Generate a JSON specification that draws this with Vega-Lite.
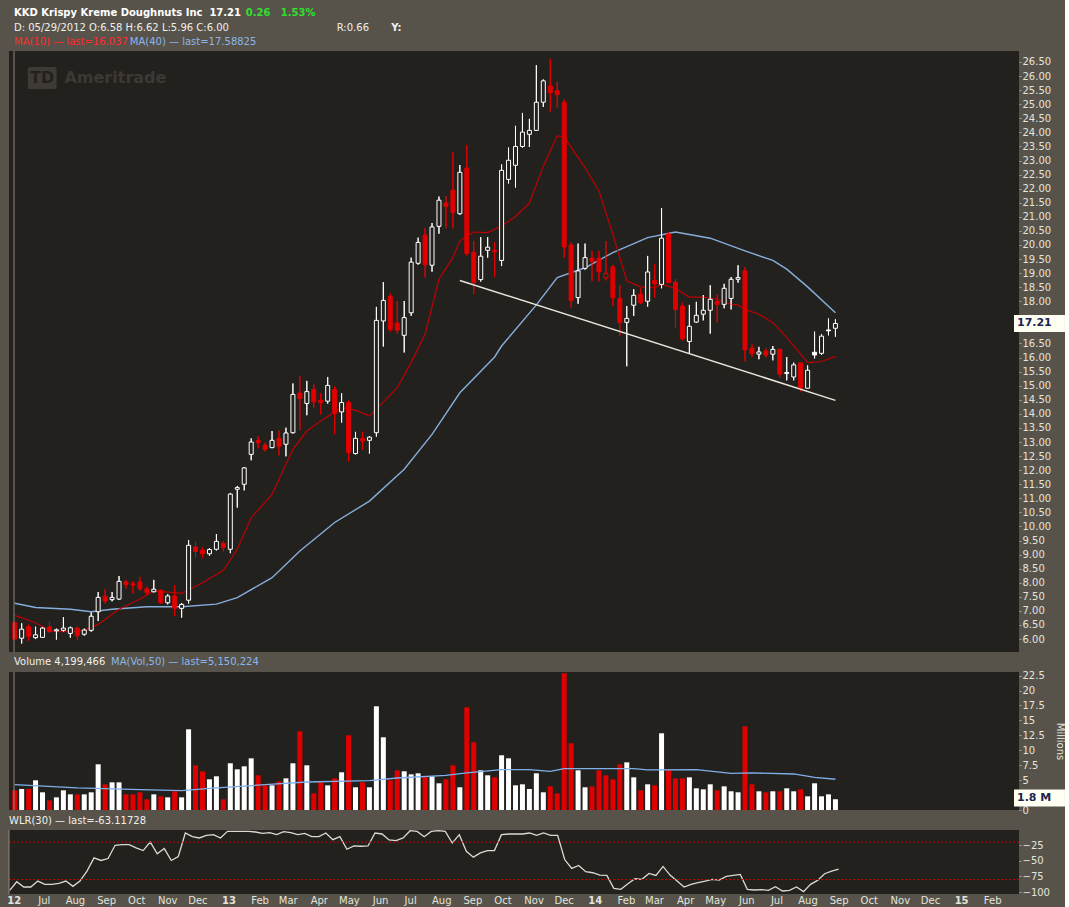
{
  "$schema": "https://vega.github.io/schema/vega-lite/v6.json",
  "background": "#57534B",
  "padding": {"left": 6, "top": 7, "right": 0, "bottom": 4},
  "config": {
    "view": {"fill": "#23211E", "stroke": null},
    "font": "DejaVu Sans",
    "axis": {
      "labelFont": "DejaVu Sans", "labelFontSize": 10, "labelColor": "#E4E4DC",
      "domain": false, "ticks": true, "tickSize": 2, "tickColor": "#A8A49C", "grid": false,
      "labelPadding": 1, "labelOverlap": false,
      "titleFont": "DejaVu Sans", "titleFontSize": 10, "titleColor": "#E4E4DC", "titleFontWeight": "normal"
    },
    "text": {"font": "DejaVu Sans", "fontSize": 10, "align": "left", "baseline": "middle"}
  },
  "datasets": {
    "candles": [
      {"d":"2012-05-28","o":6.58,"h":6.62,"l":5.96,"c":6.00,"v":3.3,"dir":"down","wlr":-97.3},
      {"d":"2012-06-04","o":6.03,"h":6.56,"l":5.84,"c":6.35,"v":3.52,"dir":"up","wlr":-83.5},
      {"d":"2012-06-11","o":6.44,"h":6.52,"l":5.93,"c":6.10,"v":3.52,"dir":"down","wlr":-92.0},
      {"d":"2012-06-18","o":6.05,"h":6.44,"l":6.00,"c":6.15,"v":4.97,"dir":"up","wlr":-92.0},
      {"d":"2012-06-25","o":6.06,"h":6.43,"l":6.05,"c":6.39,"v":2.96,"dir":"up","wlr":-82.4},
      {"d":"2012-07-02","o":6.43,"h":6.61,"l":6.22,"c":6.26,"v":1.62,"dir":"down","wlr":-87.7},
      {"d":"2012-07-09","o":6.29,"h":6.37,"l":5.98,"c":6.33,"v":2.12,"dir":"up","wlr":-87.7},
      {"d":"2012-07-16","o":6.31,"h":6.78,"l":6.26,"c":6.39,"v":3.29,"dir":"up","wlr":-86.1},
      {"d":"2012-07-23","o":6.20,"h":6.44,"l":6.05,"c":6.40,"v":2.62,"dir":"up","wlr":-82.4},
      {"d":"2012-07-30","o":6.39,"h":6.44,"l":5.96,"c":6.12,"v":2.62,"dir":"down","wlr":-90.9},
      {"d":"2012-08-06","o":6.17,"h":6.37,"l":6.12,"c":6.32,"v":2.62,"dir":"up","wlr":-82.4},
      {"d":"2012-08-13","o":6.31,"h":6.95,"l":6.26,"c":6.81,"v":2.96,"dir":"up","wlr":-66.5},
      {"d":"2012-08-20","o":6.97,"h":7.67,"l":6.64,"c":7.48,"v":7.65,"dir":"up","wlr":-45.2},
      {"d":"2012-08-27","o":7.52,"h":7.77,"l":7.26,"c":7.35,"v":4.30,"dir":"down","wlr":-49.4},
      {"d":"2012-09-03","o":7.40,"h":7.67,"l":7.34,"c":7.48,"v":4.63,"dir":"up","wlr":-46.3},
      {"d":"2012-09-10","o":7.42,"h":8.24,"l":7.39,"c":8.05,"v":4.63,"dir":"up","wlr":-25.0},
      {"d":"2012-09-17","o":8.03,"h":8.10,"l":7.79,"c":7.94,"v":2.62,"dir":"down","wlr":-23.9},
      {"d":"2012-09-24","o":7.97,"h":8.06,"l":7.62,"c":7.92,"v":2.62,"dir":"down","wlr":-23.9},
      {"d":"2012-10-01","o":8.03,"h":8.21,"l":7.71,"c":7.79,"v":2.96,"dir":"down","wlr":-29.2},
      {"d":"2012-10-08","o":7.78,"h":7.86,"l":7.55,"c":7.66,"v":1.79,"dir":"down","wlr":-33.5},
      {"d":"2012-10-15","o":7.68,"h":8.10,"l":7.66,"c":7.77,"v":2.62,"dir":"up","wlr":-19.7},
      {"d":"2012-10-22","o":7.73,"h":7.76,"l":7.26,"c":7.29,"v":2.29,"dir":"down","wlr":-38.8},
      {"d":"2012-10-29","o":7.29,"h":7.59,"l":7.23,"c":7.53,"v":2.12,"dir":"up","wlr":-30.3},
      {"d":"2012-11-05","o":7.53,"h":7.91,"l":6.82,"c":7.09,"v":3.13,"dir":"down","wlr":-49.4},
      {"d":"2012-11-12","o":7.09,"h":7.28,"l":6.76,"c":7.23,"v":2.12,"dir":"up","wlr":-43.1},
      {"d":"2012-11-19","o":7.38,"h":9.52,"l":7.26,"c":9.33,"v":13.51,"dir":"up","wlr":-5.3},
      {"d":"2012-11-26","o":9.27,"h":9.44,"l":8.89,"c":9.11,"v":7.48,"dir":"down","wlr":-11.2},
      {"d":"2012-12-03","o":9.16,"h":9.27,"l":8.87,"c":9.03,"v":6.48,"dir":"down","wlr":-13.3},
      {"d":"2012-12-10","o":9.03,"h":9.23,"l":8.96,"c":9.18,"v":5.14,"dir":"up","wlr":-9.0},
      {"d":"2012-12-17","o":9.19,"h":9.73,"l":9.15,"c":9.47,"v":5.64,"dir":"up","wlr":-8.0},
      {"d":"2012-12-24","o":9.40,"h":9.48,"l":9.11,"c":9.25,"v":1.79,"dir":"down","wlr":-13.3},
      {"d":"2012-12-31","o":9.19,"h":11.19,"l":9.05,"c":11.15,"v":7.82,"dir":"up","wlr":-2.7},
      {"d":"2013-01-07","o":11.32,"h":11.44,"l":10.67,"c":11.38,"v":6.81,"dir":"up","wlr":-2.7},
      {"d":"2013-01-14","o":11.50,"h":12.11,"l":11.28,"c":12.08,"v":7.31,"dir":"up","wlr":-2.7},
      {"d":"2013-01-21","o":12.56,"h":13.13,"l":12.35,"c":13.00,"v":8.65,"dir":"up","wlr":-2.7},
      {"d":"2013-01-28","o":13.05,"h":13.20,"l":12.78,"c":12.98,"v":5.81,"dir":"down","wlr":-3.7},
      {"d":"2013-02-04","o":12.89,"h":12.98,"l":12.66,"c":12.74,"v":4.13,"dir":"down","wlr":-5.9},
      {"d":"2013-02-11","o":12.80,"h":13.39,"l":12.78,"c":13.06,"v":4.13,"dir":"up","wlr":-4.8},
      {"d":"2013-02-18","o":13.13,"h":13.41,"l":12.52,"c":12.84,"v":4.80,"dir":"down","wlr":-8.0},
      {"d":"2013-02-25","o":12.92,"h":13.51,"l":12.49,"c":13.32,"v":5.30,"dir":"up","wlr":-3.2},
      {"d":"2013-03-04","o":13.33,"h":15.08,"l":13.30,"c":14.69,"v":7.82,"dir":"up","wlr":-4.8},
      {"d":"2013-03-11","o":14.74,"h":15.34,"l":13.42,"c":14.55,"v":13.18,"dir":"down","wlr":-8.0},
      {"d":"2013-03-18","o":14.37,"h":15.17,"l":13.95,"c":14.79,"v":7.48,"dir":"up","wlr":-5.9},
      {"d":"2013-03-25","o":14.87,"h":15.05,"l":14.22,"c":14.43,"v":2.79,"dir":"down","wlr":-11.2},
      {"d":"2013-04-01","o":14.48,"h":14.73,"l":13.98,"c":14.40,"v":4.63,"dir":"down","wlr":-11.2},
      {"d":"2013-04-08","o":14.45,"h":15.31,"l":14.36,"c":15.01,"v":4.13,"dir":"up","wlr":-5.3},
      {"d":"2013-04-15","o":14.87,"h":14.98,"l":13.27,"c":14.01,"v":5.30,"dir":"down","wlr":-16.0},
      {"d":"2013-04-22","o":14.07,"h":14.73,"l":13.69,"c":14.40,"v":6.31,"dir":"up","wlr":-11.2},
      {"d":"2013-04-29","o":14.41,"h":14.48,"l":12.30,"c":12.62,"v":12.51,"dir":"down","wlr":-31.4},
      {"d":"2013-05-06","o":12.59,"h":13.36,"l":12.56,"c":13.13,"v":3.80,"dir":"up","wlr":-26.1},
      {"d":"2013-05-13","o":13.12,"h":13.37,"l":12.72,"c":13.04,"v":4.63,"dir":"down","wlr":-26.6},
      {"d":"2013-05-20","o":13.06,"h":13.21,"l":12.59,"c":13.17,"v":3.80,"dir":"up","wlr":-26.1},
      {"d":"2013-05-27","o":13.33,"h":17.80,"l":13.19,"c":17.32,"v":17.36,"dir":"up","wlr":-5.3},
      {"d":"2013-06-03","o":17.30,"h":18.68,"l":16.39,"c":18.03,"v":12.17,"dir":"up","wlr":-6.9},
      {"d":"2013-06-10","o":18.17,"h":18.28,"l":16.91,"c":17.00,"v":4.97,"dir":"down","wlr":-16.5},
      {"d":"2013-06-17","o":17.23,"h":18.01,"l":16.85,"c":16.97,"v":6.64,"dir":"down","wlr":-17.6},
      {"d":"2013-06-24","o":16.79,"h":18.01,"l":16.18,"c":17.42,"v":6.48,"dir":"up","wlr":-13.3},
      {"d":"2013-07-01","o":17.59,"h":19.55,"l":17.48,"c":19.39,"v":5.97,"dir":"up","wlr":-1.6},
      {"d":"2013-07-08","o":19.35,"h":20.26,"l":19.30,"c":20.09,"v":6.14,"dir":"up","wlr":-2.7},
      {"d":"2013-07-15","o":20.35,"h":20.59,"l":18.84,"c":19.30,"v":5.64,"dir":"down","wlr":-11.2},
      {"d":"2013-07-22","o":19.28,"h":20.78,"l":19.05,"c":20.64,"v":5.64,"dir":"up","wlr":-2.7},
      {"d":"2013-07-29","o":20.66,"h":21.72,"l":20.40,"c":21.59,"v":4.47,"dir":"up","wlr":-1.6},
      {"d":"2013-08-05","o":21.49,"h":21.74,"l":20.59,"c":21.37,"v":5.14,"dir":"down","wlr":-2.7},
      {"d":"2013-08-12","o":21.94,"h":23.30,"l":20.59,"c":21.16,"v":7.48,"dir":"down","wlr":-21.3},
      {"d":"2013-08-19","o":21.11,"h":22.84,"l":21.07,"c":22.58,"v":3.80,"dir":"up","wlr":-8.0},
      {"d":"2013-08-26","o":22.73,"h":23.55,"l":19.62,"c":19.70,"v":17.20,"dir":"down","wlr":-34.6},
      {"d":"2013-09-02","o":19.74,"h":20.14,"l":18.25,"c":18.66,"v":11.33,"dir":"down","wlr":-44.1},
      {"d":"2013-09-09","o":18.77,"h":20.28,"l":18.70,"c":19.60,"v":6.64,"dir":"up","wlr":-37.2},
      {"d":"2013-09-16","o":19.81,"h":20.28,"l":19.55,"c":19.92,"v":5.81,"dir":"up","wlr":-33.5},
      {"d":"2013-09-23","o":19.81,"h":20.10,"l":18.86,"c":19.76,"v":5.47,"dir":"down","wlr":-33.5},
      {"d":"2013-09-30","o":19.45,"h":22.86,"l":19.25,"c":22.65,"v":9.16,"dir":"up","wlr":-8.0},
      {"d":"2013-10-07","o":22.33,"h":23.46,"l":22.18,"c":23.01,"v":8.65,"dir":"up","wlr":-6.9},
      {"d":"2013-10-14","o":22.83,"h":24.23,"l":22.04,"c":23.50,"v":4.13,"dir":"up","wlr":-6.9},
      {"d":"2013-10-21","o":23.50,"h":24.69,"l":23.46,"c":24.01,"v":4.30,"dir":"up","wlr":-6.9},
      {"d":"2013-10-28","o":23.93,"h":24.48,"l":23.48,"c":24.07,"v":3.52,"dir":"up","wlr":-5.3},
      {"d":"2013-11-04","o":24.07,"h":26.39,"l":24.05,"c":25.07,"v":6.14,"dir":"up","wlr":-9.0},
      {"d":"2013-11-11","o":25.07,"h":25.88,"l":24.90,"c":25.83,"v":2.96,"dir":"up","wlr":-5.3},
      {"d":"2013-11-18","o":25.65,"h":26.61,"l":24.74,"c":25.41,"v":3.96,"dir":"down","wlr":-9.0},
      {"d":"2013-11-25","o":25.48,"h":25.79,"l":24.88,"c":25.34,"v":2.79,"dir":"down","wlr":-9.0},
      {"d":"2013-12-02","o":25.06,"h":25.17,"l":19.55,"c":19.93,"v":22.89,"dir":"down","wlr":-47.9},
      {"d":"2013-12-09","o":20.00,"h":20.09,"l":17.77,"c":18.03,"v":11.17,"dir":"down","wlr":-62.2},
      {"d":"2013-12-16","o":18.13,"h":20.05,"l":17.91,"c":19.08,"v":6.64,"dir":"up","wlr":-57.4},
      {"d":"2013-12-23","o":19.17,"h":20.05,"l":19.12,"c":19.55,"v":3.80,"dir":"up","wlr":-67.5},
      {"d":"2013-12-30","o":19.53,"h":19.79,"l":18.72,"c":19.41,"v":3.96,"dir":"down","wlr":-69.1},
      {"d":"2014-01-06","o":19.53,"h":19.79,"l":18.70,"c":19.05,"v":6.64,"dir":"down","wlr":-72.8},
      {"d":"2014-01-13","o":18.83,"h":20.14,"l":18.74,"c":18.99,"v":5.81,"dir":"down","wlr":-73.4},
      {"d":"2014-01-20","o":19.22,"h":19.29,"l":17.83,"c":18.13,"v":5.14,"dir":"down","wlr":-94.1},
      {"d":"2014-01-27","o":18.10,"h":18.58,"l":16.77,"c":17.24,"v":7.65,"dir":"down","wlr":-95.7},
      {"d":"2014-02-03","o":17.25,"h":17.83,"l":15.69,"c":17.39,"v":7.98,"dir":"up","wlr":-86.7},
      {"d":"2014-02-10","o":17.86,"h":18.43,"l":17.48,"c":18.21,"v":5.47,"dir":"up","wlr":-78.7},
      {"d":"2014-02-17","o":18.25,"h":18.46,"l":17.91,"c":17.95,"v":3.29,"dir":"down","wlr":-79.7},
      {"d":"2014-02-24","o":18.00,"h":19.61,"l":17.81,"c":19.04,"v":4.30,"dir":"up","wlr":-70.2},
      {"d":"2014-03-03","o":18.74,"h":19.31,"l":18.13,"c":18.62,"v":4.13,"dir":"down","wlr":-73.4},
      {"d":"2014-03-10","o":18.60,"h":21.31,"l":18.46,"c":20.24,"v":12.84,"dir":"up","wlr":-59.0},
      {"d":"2014-03-17","o":20.39,"h":20.44,"l":18.64,"c":18.66,"v":6.64,"dir":"down","wlr":-72.8},
      {"d":"2014-03-24","o":18.68,"h":18.78,"l":17.06,"c":17.70,"v":5.30,"dir":"down","wlr":-82.4},
      {"d":"2014-03-31","o":17.83,"h":17.95,"l":16.60,"c":16.67,"v":5.30,"dir":"down","wlr":-92.0},
      {"d":"2014-04-07","o":16.57,"h":17.87,"l":16.14,"c":17.11,"v":5.47,"dir":"up","wlr":-87.7},
      {"d":"2014-04-14","o":17.26,"h":17.98,"l":17.23,"c":17.50,"v":3.63,"dir":"up","wlr":-85.1},
      {"d":"2014-04-21","o":17.54,"h":18.22,"l":17.32,"c":17.68,"v":3.46,"dir":"up","wlr":-82.4},
      {"d":"2014-04-28","o":17.68,"h":18.57,"l":16.85,"c":18.07,"v":4.30,"dir":"up","wlr":-79.7},
      {"d":"2014-05-05","o":17.99,"h":18.25,"l":17.24,"c":17.89,"v":3.29,"dir":"down","wlr":-80.8},
      {"d":"2014-05-12","o":17.89,"h":18.62,"l":17.75,"c":18.46,"v":3.96,"dir":"up","wlr":-75.0},
      {"d":"2014-05-19","o":18.10,"h":18.86,"l":17.71,"c":18.78,"v":3.13,"dir":"up","wlr":-73.4},
      {"d":"2014-05-26","o":18.78,"h":19.28,"l":18.66,"c":18.84,"v":2.96,"dir":"up","wlr":-71.8},
      {"d":"2014-06-02","o":19.08,"h":19.22,"l":15.86,"c":16.27,"v":14.01,"dir":"down","wlr":-95.7},
      {"d":"2014-06-09","o":16.33,"h":16.47,"l":16.02,"c":16.14,"v":4.30,"dir":"down","wlr":-96.8},
      {"d":"2014-06-16","o":16.12,"h":16.38,"l":15.94,"c":16.20,"v":3.13,"dir":"up","wlr":-96.2},
      {"d":"2014-06-23","o":16.23,"h":16.33,"l":16.00,"c":16.09,"v":2.96,"dir":"down","wlr":-97.3},
      {"d":"2014-06-30","o":16.12,"h":16.41,"l":15.90,"c":16.29,"v":3.13,"dir":"up","wlr":-91.4},
      {"d":"2014-07-07","o":16.29,"h":16.29,"l":15.29,"c":15.41,"v":3.13,"dir":"down","wlr":-98.4},
      {"d":"2014-07-14","o":15.43,"h":16.02,"l":15.19,"c":15.47,"v":3.63,"dir":"up","wlr":-97.3},
      {"d":"2014-07-21","o":15.31,"h":15.82,"l":15.19,"c":15.74,"v":3.13,"dir":"up","wlr":-92.0},
      {"d":"2014-07-28","o":15.81,"h":15.81,"l":14.79,"c":14.91,"v":3.46,"dir":"down","wlr":-99.4},
      {"d":"2014-08-04","o":14.91,"h":15.72,"l":14.91,"c":15.55,"v":2.29,"dir":"up","wlr":-87.7},
      {"d":"2014-08-11","o":16.19,"h":16.92,"l":15.97,"c":16.09,"v":4.47,"dir":"up","wlr":-81.3},
      {"d":"2014-08-18","o":16.15,"h":16.83,"l":16.09,"c":16.76,"v":2.29,"dir":"up","wlr":-70.7},
      {"d":"2014-08-25","o":16.98,"h":17.39,"l":16.79,"c":16.95,"v":2.62,"dir":"up","wlr":-66.5},
      {"d":"2014-09-01","o":17.04,"h":17.36,"l":16.74,"c":17.21,"v":1.8,"dir":"up","wlr":-63.1}
    ],
    "ma10": [
      {"d":"2012-05-28","ma":6.84},{"d":"2012-06-18","ma":6.58},{"d":"2012-07-02","ma":6.29},
      {"d":"2012-07-16","ma":6.26},{"d":"2012-08-06","ma":6.31},{"d":"2012-08-20","ma":6.52},
      {"d":"2012-09-10","ma":7.06},{"d":"2012-10-01","ma":7.42},{"d":"2012-10-15","ma":7.71},
      {"d":"2012-11-12","ma":7.62},{"d":"2012-12-03","ma":8.00},{"d":"2012-12-24","ma":8.44},
      {"d":"2013-01-07","ma":9.19},{"d":"2013-01-21","ma":10.31},{"d":"2013-02-11","ma":11.14},
      {"d":"2013-02-25","ma":12.21},{"d":"2013-03-04","ma":12.74},{"d":"2013-03-18","ma":13.39},
      {"d":"2013-04-01","ma":13.75},{"d":"2013-04-22","ma":14.22},{"d":"2013-05-06","ma":14.13},
      {"d":"2013-05-20","ma":13.92},{"d":"2013-06-17","ma":14.93},{"d":"2013-07-01","ma":15.82},
      {"d":"2013-07-15","ma":16.83},{"d":"2013-07-29","ma":18.78},{"d":"2013-08-12","ma":19.55},
      {"d":"2013-08-19","ma":20.14},{"d":"2013-09-02","ma":20.46},{"d":"2013-09-16","ma":20.44},
      {"d":"2013-09-30","ma":20.67},{"d":"2013-10-14","ma":21.01},{"d":"2013-10-28","ma":21.48},
      {"d":"2013-11-11","ma":22.80},{"d":"2013-11-25","ma":23.87},{"d":"2013-12-02","ma":23.83},
      {"d":"2013-12-23","ma":22.75},{"d":"2014-01-06","ma":21.92},{"d":"2014-01-20","ma":20.38},
      {"d":"2014-02-03","ma":18.72},{"d":"2014-02-17","ma":18.51},{"d":"2014-03-03","ma":18.48},
      {"d":"2014-03-10","ma":18.60},{"d":"2014-03-24","ma":18.46},{"d":"2014-04-07","ma":18.15},
      {"d":"2014-04-21","ma":18.15},{"d":"2014-05-05","ma":18.07},{"d":"2014-05-19","ma":17.89},
      {"d":"2014-05-26","ma":17.87},{"d":"2014-06-02","ma":17.71},{"d":"2014-06-16","ma":17.54},
      {"d":"2014-06-30","ma":17.24},{"d":"2014-07-14","ma":16.71},{"d":"2014-07-28","ma":16.12},
      {"d":"2014-08-04","ma":15.82},{"d":"2014-08-18","ma":15.86},{"d":"2014-09-01","ma":16.04}
    ],
    "ma40": [
      {"d":"2012-05-28","ma":7.27},{"d":"2012-06-18","ma":7.12},{"d":"2012-07-23","ma":7.06},
      {"d":"2012-08-13","ma":6.97},{"d":"2012-09-03","ma":7.06},{"d":"2012-10-08","ma":7.15},
      {"d":"2012-11-12","ma":7.15},{"d":"2012-12-17","ma":7.24},{"d":"2013-01-07","ma":7.47},
      {"d":"2013-02-11","ma":8.18},{"d":"2013-03-11","ma":9.13},{"d":"2013-04-15","ma":10.14},
      {"d":"2013-05-20","ma":10.90},{"d":"2013-06-24","ma":12.03},{"d":"2013-07-22","ma":13.27},
      {"d":"2013-08-19","ma":14.75},{"d":"2013-09-23","ma":16.02},{"d":"2013-09-30","ma":16.41},
      {"d":"2013-11-04","ma":17.87},{"d":"2013-11-25","ma":18.84},{"d":"2013-12-23","ma":19.19},
      {"d":"2014-01-20","ma":19.73},{"d":"2014-02-24","ma":20.26},{"d":"2014-03-24","ma":20.46},
      {"d":"2014-04-28","ma":20.24},{"d":"2014-06-02","ma":19.79},{"d":"2014-06-30","ma":19.45},
      {"d":"2014-07-14","ma":19.14},{"d":"2014-08-04","ma":18.51},{"d":"2014-09-01","ma":17.59}
    ],
    "vma": [
      {"d":"2012-05-28","ma":4.24},{"d":"2012-07-30","ma":3.69},{"d":"2012-10-01","ma":3.41},
      {"d":"2012-11-12","ma":3.24},{"d":"2012-12-17","ma":3.69},{"d":"2013-02-04","ma":4.24},
      {"d":"2013-03-18","ma":4.69},{"d":"2013-05-20","ma":4.91},{"d":"2013-06-17","ma":5.36},
      {"d":"2013-08-05","ma":5.81},{"d":"2013-08-26","ma":6.2},{"d":"2013-09-30","ma":6.76},
      {"d":"2013-10-28","ma":6.76},{"d":"2013-11-18","ma":6.48},{"d":"2013-12-02","ma":6.92},
      {"d":"2014-02-10","ma":6.92},{"d":"2014-02-24","ma":6.7},{"d":"2014-04-14","ma":6.76},
      {"d":"2014-05-19","ma":6.14},{"d":"2014-06-09","ma":6.2},{"d":"2014-07-21","ma":6.03},
      {"d":"2014-08-11","ma":5.47},{"d":"2014-09-01","ma":5.15}
    ],
    "trend": [
      {"d":"2013-08-19","p":18.74},{"d":"2014-09-01","p":14.48}
    ],
    "one": [{}]
  },
  "bounds": "flush",
  "spacing": 20,
  "vconcat": [
    {
      "width": 1010,
      "height": 601,
      "data": {"name": "candles"},
      "resolve": {"axis": {"x": "independent", "y": "independent"}},
      "layer": [
        {
          "mark": {"type": "rule", "strokeWidth": 1, "clip": true},
          "encoding": {
            "x": {"field": "d", "type": "temporal", "axis": null,
                  "scale": {"type": "utc", "domain": [{"year": 2012, "month": "may", "date": 27, "hours": 7, "utc": true}, {"year": 2015, "month": "feb", "date": 27, "hours": 17, "utc": true}]}},
            "y": {
              "field": "l", "type": "quantitative",
              "scale": {"domain": [5.54, 26.89], "nice": false, "zero": false},
              "axis": {
                "orient": "right", "title": null, "format": ".2f",
                "values": [6,6.5,7,7.5,8,8.5,9,9.5,10,10.5,11,11.5,12,12.5,13,13.5,14,14.5,15,15.5,16,16.5,18,18.5,19,19.5,20,20.5,21,21.5,22,22.5,23,23.5,24,24.5,25,25.5,26,26.5]
              }
            },
            "y2": {"field": "h"},
            "color": {"field": "dir", "type": "nominal", "scale": {"domain": ["up", "down"], "range": ["#FFFFFF", "#E00000"]}, "legend": null}
          }
        },
        {
          "data": {"name": "one"},
          "mark": {"type": "rect", "fill": "#3E3B37", "cornerRadius": 2},
          "encoding": {
            "x": {"datum": {"year": 2012, "month": "jun", "date": 10, "hours": 6, "utc": true}, "type": "temporal", "axis": null},
            "x2": {"datum": {"year": 2012, "month": "jul", "date": 9, "hours": 3, "utc": true}},
            "y": {"datum": 26.32, "type": "quantitative", "axis": null},
            "y2": {"datum": 25.54}
          }
        },
        {
          "data": {"name": "one"},
          "mark": {"type": "text", "text": "TD", "fontSize": 16, "fontWeight": "bold", "fill": "#23211E", "align": "center"},
          "encoding": {
            "x": {"datum": {"year": 2012, "month": "jun", "date": 24, "hours": 16, "utc": true}, "type": "temporal", "axis": null},
            "y": {"datum": 25.93, "type": "quantitative", "axis": null}
          }
        },
        {
          "data": {"name": "one"},
          "mark": {"type": "text", "text": "Ameritrade", "fontSize": 16, "fontWeight": "bold", "fill": "#3C3935"},
          "encoding": {
            "x": {"datum": {"year": 2012, "month": "jul", "date": 17, "hours": 2, "utc": true}, "type": "temporal", "axis": null},
            "y": {"datum": 25.93, "type": "quantitative", "axis": null}
          }
        },
        {
          "data": {"name": "ma40"},
          "mark": {"type": "line", "color": "#86AEDC", "strokeWidth": 1.4},
          "encoding": {
            "x": {"field": "d", "type": "temporal", "axis": null},
            "y": {"field": "ma", "type": "quantitative", "axis": null}
          }
        },
        {
          "data": {"name": "ma10"},
          "mark": {"type": "line", "color": "#BE0000", "strokeWidth": 1.2},
          "encoding": {
            "x": {"field": "d", "type": "temporal", "axis": null},
            "y": {"field": "ma", "type": "quantitative", "axis": null}
          }
        },
        {
          "mark": {"type": "rule", "strokeWidth": 1, "clip": true},
          "encoding": {
            "x": {"field": "d", "type": "temporal", "axis": null},
            "y": {"field": "l", "type": "quantitative", "axis": null},
            "y2": {"field": "h"},
            "color": {"field": "dir", "type": "nominal", "scale": {"domain": ["up", "down"], "range": ["#FFFFFF", "#E00000"]}, "legend": null}
          }
        },
        {
          "mark": {"type": "bar", "width": 4, "strokeWidth": 1, "clip": true},
          "encoding": {
            "x": {"field": "d", "type": "temporal", "axis": null},
            "y": {"field": "o", "type": "quantitative", "axis": null},
            "y2": {"field": "c"},
            "fill": {
              "condition": {"test": "datum.c < datum.o", "field": "dir", "type": "nominal", "scale": {"domain": ["up", "down"], "range": ["#FFFFFF", "#E00000"]}, "legend": null},
              "value": "#23211E"
            },
            "stroke": {"field": "dir", "type": "nominal", "scale": {"domain": ["up", "down"], "range": ["#FFFFFF", "#E00000"]}, "legend": null}
          }
        },
        {
          "data": {"name": "trend"},
          "mark": {"type": "line", "color": "#E6E6DA", "strokeWidth": 1.5},
          "encoding": {
            "x": {"field": "d", "type": "temporal", "axis": null},
            "y": {"field": "p", "type": "quantitative", "axis": null}
          }
        },
        {
          "data": {"name": "one"},
          "mark": {"type": "rule", "color": "#8C8880", "strokeWidth": 1},
          "encoding": {
            "x": {"datum": {"year": 2012, "month": "may", "date": 27, "hours": 7, "utc": true}, "type": "temporal", "axis": null}
          }
        },
        {
          "data": {"name": "one"},
          "mark": {"type": "rect", "fill": "#FFFFF2"},
          "encoding": {
            "x": {"datum": {"year": 2015, "month": "feb", "date": 27, "hours": 17, "utc": true}, "type": "temporal", "axis": null},
            "x2": {"datum": {"year": 2015, "month": "apr", "date": 20, "utc": true}},
            "y": {"datum": 16.91, "type": "quantitative", "axis": null},
            "y2": {"datum": 17.51}
          }
        },
        {
          "data": {"name": "one"},
          "mark": {"type": "text", "text": "17.21", "fontSize": 11, "fontWeight": "bold", "fill": "#1C2452"},
          "encoding": {
            "x": {"datum": {"year": 2015, "month": "mar", "date": 2, "hours": 17, "utc": true}, "type": "temporal", "axis": null},
            "y": {"datum": 17.21, "type": "quantitative", "axis": null}
          }
        },
        {
          "data": {"name": "one"},
          "mark": {"type": "text", "text": "KKD Krispy Kreme Doughnuts Inc\u00a0\u00a017.21", "fontWeight": "bold", "fill": "#FFFFFF"},
          "encoding": {
            "x": {"datum": {"year": 2012, "month": "may", "date": 27, "hours": 7, "utc": true}, "type": "temporal", "axis": null},
            "y": {"datum": 28.24, "type": "quantitative", "axis": null}
          }
        },
        {
          "data": {"name": "one"},
          "mark": {"type": "text", "text": "0.26\u00a0\u00a0 1.53%", "fontWeight": "bold", "fill": "#2EE02E"},
          "encoding": {
            "x": {"datum": {"year": 2013, "month": "jan", "date": 15, "hours": 12, "utc": true}, "type": "temporal", "axis": null},
            "y": {"datum": 28.24, "type": "quantitative", "axis": null}
          }
        },
        {
          "data": {"name": "one"},
          "mark": {"type": "text", "text": "D: 05/29/2012 O:6.58 H:6.62 L:5.96 C:6.00", "fill": "#F0F0EA"},
          "encoding": {
            "x": {"datum": {"year": 2012, "month": "may", "date": 27, "hours": 7, "utc": true}, "type": "temporal", "axis": null},
            "y": {"datum": 27.71, "type": "quantitative", "axis": null}
          }
        },
        {
          "data": {"name": "one"},
          "mark": {"type": "text", "text": "R:0.66", "fill": "#F0F0EA"},
          "encoding": {
            "x": {"datum": {"year": 2013, "month": "apr", "date": 17, "hours": 2, "utc": true}, "type": "temporal", "axis": null},
            "y": {"datum": 27.71, "type": "quantitative", "axis": null}
          }
        },
        {
          "data": {"name": "one"},
          "mark": {"type": "text", "text": "Y:", "fontWeight": "bold", "fill": "#F0F0EA"},
          "encoding": {
            "x": {"datum": {"year": 2013, "month": "jun", "date": 10, "hours": 21, "utc": true}, "type": "temporal", "axis": null},
            "y": {"datum": 27.71, "type": "quantitative", "axis": null}
          }
        },
        {
          "data": {"name": "one"},
          "mark": {"type": "text", "text": "MA(10) — last=16.037", "fill": "#FF2A2A"},
          "encoding": {
            "x": {"datum": {"year": 2012, "month": "may", "date": 27, "hours": 7, "utc": true}, "type": "temporal", "axis": null},
            "y": {"datum": 27.21, "type": "quantitative", "axis": null}
          }
        },
        {
          "data": {"name": "one"},
          "mark": {"type": "text", "text": "MA(40) — last=17.58825", "fill": "#8CB6E8"},
          "encoding": {
            "x": {"datum": {"year": 2012, "month": "sep", "date": 20, "hours": 21, "utc": true}, "type": "temporal", "axis": null},
            "y": {"datum": 27.21, "type": "quantitative", "axis": null}
          }
        }
      ]
    },
    {
      "width": 1010,
      "height": 138,
      "data": {"name": "candles"},
      "resolve": {"axis": {"x": "independent", "y": "independent"}},
      "layer": [
        {
          "mark": {"type": "bar", "width": 5, "clip": true},
          "encoding": {
            "x": {"field": "d", "type": "temporal", "axis": null,
                  "scale": {"type": "utc", "domain": [{"year": 2012, "month": "may", "date": 27, "hours": 7, "utc": true}, {"year": 2015, "month": "feb", "date": 27, "hours": 17, "utc": true}]}},
            "y": {
              "field": "v", "type": "quantitative",
              "scale": {"domain": [0, 23.1], "nice": false},
              "axis": {
                "orient": "right", "values": [0, 5, 7.5, 10, 12.5, 15, 17.5, 20, 22.5],
                "labelExpr": "datum.value % 1 == 0 ? format(datum.value, 'd') : format(datum.value, '.1f')",
                "title": "Millions", "titleAngle": 90, "titleX": 40, "titleY": 69,
                "titleAlign": "center", "titleBaseline": "middle"
              }
            },
            "color": {"field": "dir", "type": "nominal", "scale": {"domain": ["up", "down"], "range": ["#FAFAF0", "#E00000"]}, "legend": null}
          }
        },
        {
          "data": {"name": "vma"},
          "mark": {"type": "line", "color": "#7FB0EA", "strokeWidth": 1.3},
          "encoding": {
            "x": {"field": "d", "type": "temporal", "axis": null},
            "y": {"field": "ma", "type": "quantitative", "axis": null}
          }
        },
        {
          "data": {"name": "one"},
          "mark": {"type": "rule", "color": "#8C8880", "strokeWidth": 1},
          "encoding": {
            "x": {"datum": {"year": 2012, "month": "may", "date": 27, "hours": 7, "utc": true}, "type": "temporal", "axis": null}
          }
        },
        {
          "data": {"name": "one"},
          "mark": {"type": "rect", "fill": "#FFFFF2"},
          "encoding": {
            "x": {"datum": {"year": 2015, "month": "feb", "date": 27, "hours": 17, "utc": true}, "type": "temporal", "axis": null},
            "x2": {"datum": {"year": 2015, "month": "apr", "date": 20, "utc": true}},
            "y": {"datum": 0.6, "type": "quantitative", "axis": null},
            "y2": {"datum": 3.45}
          }
        },
        {
          "data": {"name": "one"},
          "mark": {"type": "text", "text": "1.8 M", "fontSize": 11, "fontWeight": "bold", "fill": "#1C2452"},
          "encoding": {
            "x": {"datum": {"year": 2015, "month": "mar", "date": 2, "hours": 17, "utc": true}, "type": "temporal", "axis": null},
            "y": {"datum": 2.0, "type": "quantitative", "axis": null}
          }
        },
        {
          "data": {"name": "one"},
          "mark": {"type": "text", "text": "Volume 4,199,466", "fill": "#F0F0EA"},
          "encoding": {
            "x": {"datum": {"year": 2012, "month": "may", "date": 27, "hours": 7, "utc": true}, "type": "temporal", "axis": null},
            "y": {"datum": 24.77, "type": "quantitative", "axis": null}
          }
        },
        {
          "data": {"name": "one"},
          "mark": {"type": "text", "text": "MA(Vol,50) — last=5,150,224", "fill": "#8CB6E8"},
          "encoding": {
            "x": {"datum": {"year": 2012, "month": "sep", "date": 1, "hours": 23, "utc": true}, "type": "temporal", "axis": null},
            "y": {"datum": 24.77, "type": "quantitative", "axis": null}
          }
        }
      ]
    },
    {
      "width": 1010,
      "height": 64,
      "data": {"name": "candles"},
      "resolve": {"axis": {"x": "independent", "y": "independent"}},
      "layer": [
        {
          "mark": {"type": "line", "color": "#DADAD2", "strokeWidth": 1.3},
          "encoding": {
            "x": {
              "field": "d", "type": "temporal",
              "scale": {"type": "utc", "domain": [{"year": 2012, "month": "may", "date": 27, "hours": 7, "utc": true}, {"year": 2015, "month": "feb", "date": 27, "hours": 17, "utc": true}]},
              "axis": {
                "orient": "bottom", "title": null, "labelPadding": 1, "labelFlush": false, "ticks": false,
                "values": [
                  {"year":2012,"month":"jun","date":1,"utc":true},{"year":2012,"month":"jul","date":1,"utc":true},
                  {"year":2012,"month":"aug","date":1,"utc":true},{"year":2012,"month":"sep","date":1,"utc":true},
                  {"year":2012,"month":"oct","date":1,"utc":true},{"year":2012,"month":"nov","date":1,"utc":true},
                  {"year":2012,"month":"dec","date":1,"utc":true},{"year":2013,"month":"jan","date":1,"utc":true},
                  {"year":2013,"month":"feb","date":1,"utc":true},{"year":2013,"month":"mar","date":1,"utc":true},
                  {"year":2013,"month":"apr","date":1,"utc":true},{"year":2013,"month":"may","date":1,"utc":true},
                  {"year":2013,"month":"jun","date":1,"utc":true},{"year":2013,"month":"jul","date":1,"utc":true},
                  {"year":2013,"month":"aug","date":1,"utc":true},{"year":2013,"month":"sep","date":1,"utc":true},
                  {"year":2013,"month":"oct","date":1,"utc":true},{"year":2013,"month":"nov","date":1,"utc":true},
                  {"year":2013,"month":"dec","date":1,"utc":true},{"year":2014,"month":"jan","date":1,"utc":true},
                  {"year":2014,"month":"feb","date":1,"utc":true},{"year":2014,"month":"mar","date":1,"utc":true},
                  {"year":2014,"month":"apr","date":1,"utc":true},{"year":2014,"month":"may","date":1,"utc":true},
                  {"year":2014,"month":"jun","date":1,"utc":true},{"year":2014,"month":"jul","date":1,"utc":true},
                  {"year":2014,"month":"aug","date":1,"utc":true},{"year":2014,"month":"sep","date":1,"utc":true},
                  {"year":2014,"month":"oct","date":1,"utc":true},{"year":2014,"month":"nov","date":1,"utc":true},
                  {"year":2014,"month":"dec","date":1,"utc":true},{"year":2015,"month":"jan","date":1,"utc":true},
                  {"year":2015,"month":"feb","date":1,"utc":true}
                ],
                "labelExpr": "(utcmonth(datum.value) == 0 || (utcyear(datum.value) == 2012 && utcmonth(datum.value) == 5)) ? utcFormat(datum.value, '%y') : utcFormat(datum.value, '%b')",
                "labelFontWeight": {
                  "condition": {"test": "utcmonth(datum.value) == 0 || (utcyear(datum.value) == 2012 && utcmonth(datum.value) == 5)", "value": "bold"},
                  "value": "normal"
                }
              }
            },
            "y": {
              "field": "wlr", "type": "quantitative",
              "scale": {"domain": [-103.2, -0.5], "nice": false, "zero": false},
              "axis": {"orient": "right", "title": null, "values": [-25, -50, -75, -100]}
            }
          }
        },
        {
          "data": {"values": [{"lvl": -20}, {"lvl": -80}]},
          "mark": {"type": "rule", "color": "#C80000", "strokeDash": [2, 2], "strokeWidth": 1},
          "encoding": {
            "y": {"field": "lvl", "type": "quantitative", "axis": null}
          }
        },
        {
          "data": {"name": "one"},
          "mark": {"type": "rule", "color": "#8C8880", "strokeWidth": 1},
          "encoding": {
            "x": {"datum": {"year": 2012, "month": "may", "date": 27, "hours": 7, "utc": true}, "type": "temporal", "axis": null}
          }
        },
        {
          "data": {"name": "one"},
          "mark": {"type": "text", "text": "WLR(30) — last=-63.11728", "fill": "#F0F0EA"},
          "encoding": {
            "x": {"datum": {"year": 2012, "month": "may", "date": 27, "hours": 7, "utc": true}, "type": "temporal", "axis": null},
            "y": {"datum": 13.9, "type": "quantitative", "axis": null}
          }
        }
      ]
    }
  ]
}
